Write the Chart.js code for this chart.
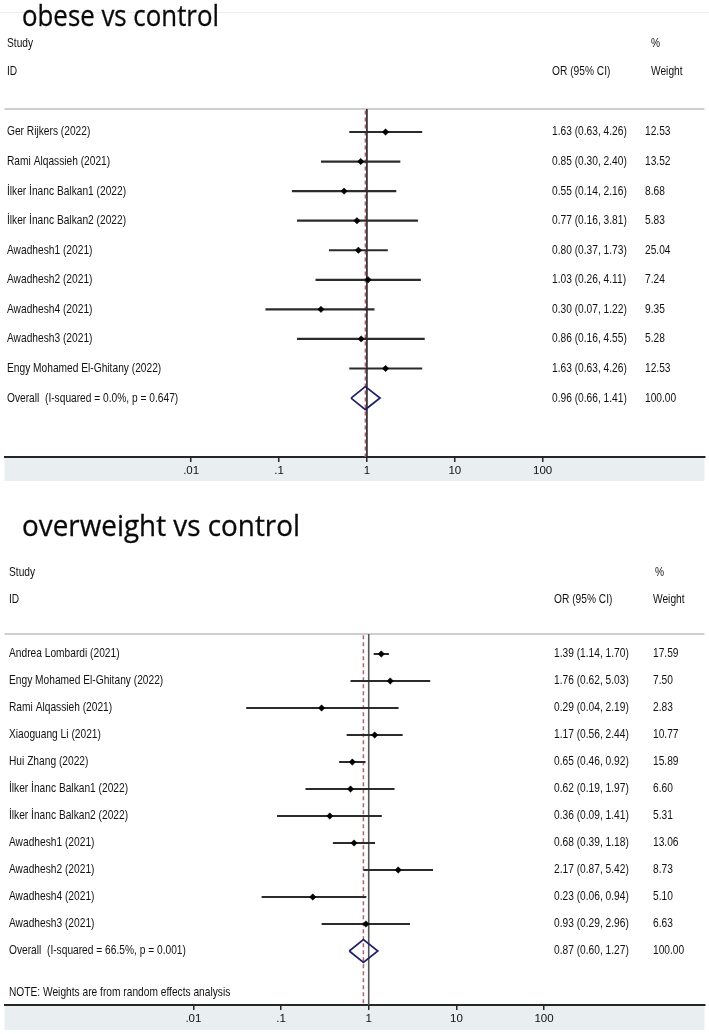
<!DOCTYPE html>
<html>
<head>
<meta charset="utf-8">
<script src="https://cdn.jsdelivr.net/npm/chart.js@4.4.1/dist/chart.umd.min.js"></script>
<style>
  html, body { margin:0; padding:0; background:#fff; width:709px; height:1034px; overflow:hidden; }
  .wrap { position:absolute; left:0; width:709px; }
  .title { position:absolute; left:22px; font-family:"Open Sans", "Noto Sans", sans-serif; font-size:29px; line-height:29px; color:#0a0a0a; white-space:nowrap; transform-origin:0 0; -webkit-text-stroke:0.3px #0a0a0a; }
  canvas { display:block; }
</style>
</head>
<body>
<div class="wrap" style="top:0;height:486px;"><canvas id="c1" width="709" height="486"></canvas></div>
<div class="wrap" style="top:486px;height:548px;"><canvas id="c2" width="709" height="548"></canvas></div>
<div class="title" id="t1" style="top:0px;">obese vs control</div>
<div class="title" id="t2" style="top:510px;">overweight vs control</div>
<script>
// ---------- data: obese vs control ----------
const obeseStudies = ["Ger Rijkers (2022)", "Rami Alqassieh (2021)", "İlker İnanc Balkan1 (2022)", "İlker İnanc Balkan2 (2022)", "Awadhesh1 (2021)", "Awadhesh2 (2021)", "Awadhesh4 (2021)", "Awadhesh3 (2021)", "Engy Mohamed El-Ghitany (2022)"];
const obeseOR    = [1.63, 0.85, 0.55, 0.77, 0.80, 1.03, 0.30, 0.86, 1.63];
const obeseLower = [0.63, 0.30, 0.14, 0.16, 0.37, 0.26, 0.07, 0.16, 0.63];
const obeseUpper = [4.26, 2.40, 2.16, 3.81, 1.73, 4.11, 1.22, 4.55, 4.26];
const obeseWeight = [12.53, 13.52, 8.68, 5.83, 25.04, 7.24, 9.35, 5.28, 12.53];
const obeseOverallLabel = "Overall  (I-squared = 0.0%, p = 0.647)";
const obeseOverall = [0.96, 0.66, 1.41]; // OR, lower, upper
const obeseOverallWeight = 100.00;

// ---------- data: overweight vs control ----------
const overStudies = ["Andrea Lombardi (2021)", "Engy Mohamed El-Ghitany (2022)", "Rami Alqassieh (2021)", "Xiaoguang Li (2021)", "Hui Zhang (2022)", "İlker İnanc Balkan1 (2022)", "İlker İnanc Balkan2 (2022)", "Awadhesh1 (2021)", "Awadhesh2 (2021)", "Awadhesh4 (2021)", "Awadhesh3 (2021)"];
const overOR    = [1.39, 1.76, 0.29, 1.17, 0.65, 0.62, 0.36, 0.68, 2.17, 0.23, 0.93];
const overLower = [1.14, 0.62, 0.04, 0.56, 0.46, 0.19, 0.09, 0.39, 0.87, 0.06, 0.29];
const overUpper = [1.70, 5.03, 2.19, 2.44, 0.92, 1.97, 1.41, 1.18, 5.42, 0.94, 2.96];
const overWeight = [17.59, 7.50, 2.83, 10.77, 15.89, 6.60, 5.31, 13.06, 8.73, 5.10, 6.63];
const overOverallLabel = "Overall  (I-squared = 66.5%, p = 0.001)";
const overOverall = [0.87, 0.60, 1.27];
const overOverallWeight = 100.00;
const overNote = "NOTE: Weights are from random effects analysis";

// ---------- axis ticks ----------
const tickValues = [0.01, 0.1, 1, 10, 100];
const tickLabels = [".01", ".1", "1", "10", "100"];
const headStudy = "Study", headID = "ID", headOR = "OR (95% CI)", headPct = "%", headWeight = "Weight";

const TXT = '#111111';
const FONT = '12.6px "Liberation Sans", Arial, sans-serif';
const SX = 0.81;

function condText(ctx, s, x, y) {
  ctx.save();
  ctx.translate(x, y);
  ctx.scale(SX, 1);
  ctx.fillText(s, 0, 0);
  ctx.restore();
}
function fmtOR(o, l, h) { return o.toFixed(2) + " (" + l.toFixed(2) + ", " + h.toFixed(2) + ")"; }

function makePanel(id, p) {
  const n = p.studies.length;
  const ds = [];
  // reference line at 1 and dashed line at overall estimate
  ds.push({ type:'line', data:[{x:1, y:p.yMin}, {x:1, y:p.yMax}], borderColor:p.refColor, borderWidth:1.6, pointRadius:0, order:5 });
  ds.push({ type:'line', data:[{x:p.overall[0], y:p.yMin + p.dashStart}, {x:p.overall[0], y:p.yMax}], borderColor:'#b0606e', borderWidth:1.5, borderDash:[4,3], pointRadius:0, order:4 });
  for (let i = 0; i < n; i++) {
    ds.push({ type:'line', data:[{x:p.lower[i], y:i}, {x:p.upper[i], y:i}], borderColor:'#2b2b2b', borderWidth:2.2, pointRadius:0, order:3 });
  }
  ds.push({ type:'scatter', data:p.or.map((v,i)=>({x:v, y:i})), pointStyle:'rectRot', pointRadius:3.2, backgroundColor:'#000', borderColor:'#000', borderWidth:0.5, order:1 });
  // overall diamond
  const oy = n;
  ds.push({ type:'line', data:[
      {x:p.overall[1], y:oy}, {x:p.overall[0], y:oy - p.dh}, {x:p.overall[2], y:oy}, {x:p.overall[0], y:oy + p.dh}, {x:p.overall[1], y:oy}
    ], borderColor:'#1f2166', borderWidth:1.7, pointRadius:0, tension:0, order:2 });

  const textPlugin = {
    id:'forestText',
    beforeDraw(chart) {
      const ctx = chart.ctx, a = chart.chartArea;
      ctx.save();
      ctx.fillStyle = '#e9eef0';
      ctx.fillRect(a.left, a.bottom, a.right - a.left, p.bandH);
      if (p.topLine) { ctx.fillStyle = '#eeeeee'; ctx.fillRect(0, p.topLine, 709, 1); }
      ctx.fillStyle = '#cfcfcf';
      ctx.fillRect(a.left, a.top - 1, a.right - a.left, 2);
      ctx.restore();
    },
    afterDraw(chart) {
      const ctx = chart.ctx, a = chart.chartArea, ys = chart.scales.y;
      ctx.save();
      ctx.fillStyle = TXT;
      ctx.font = FONT;
      ctx.textBaseline = 'middle';
      ctx.textAlign = 'left';
      condText(ctx, headStudy, p.xName, a.top - p.hStudy);
      condText(ctx, headID, p.xName, a.top - p.hID);
      condText(ctx, headPct, p.xPct, a.top - p.hStudy);
      condText(ctx, headOR, p.xOR, a.top - p.hID);
      condText(ctx, headWeight, p.xHeadW, a.top - p.hID);
      for (let i = 0; i < n; i++) {
        const y = ys.getPixelForValue(i);
        condText(ctx, p.studies[i], p.xName, y);
        condText(ctx, fmtOR(p.or[i], p.lower[i], p.upper[i]), p.xOR, y);
        condText(ctx, p.weight[i].toFixed(2), p.xW, y);
      }
      const yo = ys.getPixelForValue(n);
      condText(ctx, p.overallLabel, p.xName, yo);
      condText(ctx, fmtOR(p.overall[0], p.overall[1], p.overall[2]), p.xOR, yo);
      condText(ctx, p.overallWeight.toFixed(2), p.xW, yo);
      if (p.note) condText(ctx, p.note, p.xName, ys.getPixelForValue(p.noteRow));
      ctx.restore();
    }
  };

  return new Chart(document.getElementById(id), {
    data: { datasets: ds },
    options: {
      responsive:false, animation:false, devicePixelRatio:1,
      layout:{ padding:{ left:2, right:2, top:p.padTop, bottom:p.padBottom } },
      plugins:{ legend:{display:false}, tooltip:{enabled:false}, title:{display:false} },
      scales:{
        x:{
          type:'logarithmic', min:p.xMin, max:p.xMax,
          afterBuildTicks(s){ s.ticks = tickValues.map(v=>({value:v})); },
          afterFit(s){ s.height = 24; },
          border:{ display:true, color:'#262626', width:2 },
          grid:{ drawOnChartArea:false, drawTicks:true, tickLength:5, color:'#262626', lineWidth:1.5 },
          ticks:{ autoSkip:false, maxRotation:0, padding:2, color:TXT,
                  font:{ family:'"Liberation Sans", Arial, sans-serif', size:11.5 },
                  callback(v){ const k = tickValues.indexOf(v); return k >= 0 ? tickLabels[k] : ''; } }
        },
        y:{ type:'linear', reverse:true, min:p.yMin, max:p.yMax, display:false }
      }
    },
    plugins:[textPlugin]
  });
}

// top panel: rows at 132 + 29.56*i, chart area 109..457, x(1)=367, 88.5 px/decade
makePanel('c1', {
  studies:obeseStudies, or:obeseOR, lower:obeseLower, upper:obeseUpper, weight:obeseWeight,
  overall:obeseOverall, overallLabel:obeseOverallLabel, overallWeight:obeseOverallWeight,
  yMin:(109-132)/29.56, yMax:(457-132)/29.56, dashStart:0.05, dh:11.5/29.56,
  xMin:Math.pow(10,(2-367)/88.5), xMax:Math.pow(10,(707-367)/88.5),
  padTop:109, padBottom:5, bandH:24, topLine:12, refColor:'#1e1e1e',
  xName:7, xOR:552, xW:645, xPct:651, xHeadW:651, hStudy:65, hID:37
});
// bottom panel: rows at 654 + 27*i (page), chart area 634..1005, x(1)=368
makePanel('c2', {
  studies:overStudies, or:overOR, lower:overLower, upper:overUpper, weight:overWeight,
  overall:overOverall, overallLabel:overOverallLabel, overallWeight:overOverallWeight,
  note:overNote, noteRow:(993-654)/27,
  yMin:(634-654)/27, yMax:(1005-654)/27, dashStart:0.05, dh:11.5/27,
  xMin:Math.pow(10,(2-368)/88.5), xMax:Math.pow(10,(707-368)/88.5),
  padTop:148, padBottom:5, bandH:25, topLine:0, refColor:'#555555',
  xName:9, xOR:554, xW:653, xPct:655, xHeadW:653, hStudy:61, hID:34
});

// fit titles to the reference widths
function fitTitle(id, w) {
  const el = document.getElementById(id);
  const r = el.getBoundingClientRect().width;
  el.style.transform = 'scaleX(' + (w / r) + ')';
}
fitTitle('t1', 197);
fitTitle('t2', 278);
</script>
</body>
</html>
